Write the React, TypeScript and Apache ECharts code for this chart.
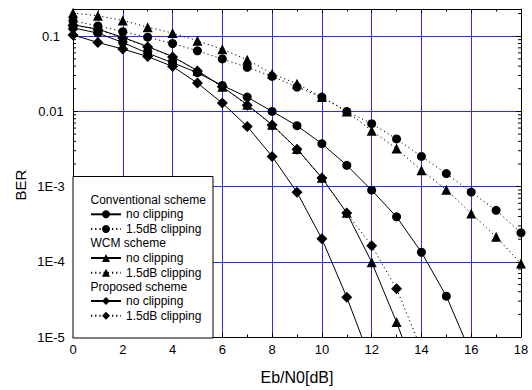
import React, { useEffect, useRef } from "react";
import * as echarts from "echarts";

// Eb/N0 [dB] sample points
const ebn0 = [0, 1, 2, 3, 4, 5, 6, 7, 8, 9, 10, 11, 12, 13, 14, 15, 16, 17, 18];

// BER values (one per Eb/N0 point, starting at 0 dB)
const convNoClip = [0.129, 0.11, 0.0825, 0.0593, 0.0444, 0.0327, 0.0221, 0.0155, 0.01, 0.00646, 0.00372, 0.00192, 8.97e-4, 3.96e-4, 1.34e-4, 3.49e-5, 5.9e-6];
const convClip = [0.16, 0.137, 0.115, 0.097, 0.08, 0.064, 0.0498, 0.0386, 0.0292, 0.0211, 0.0155, 0.01, 0.00687, 0.0043, 0.00252, 0.00149, 8.45e-4, 4.84e-4, 2.43e-4];
const wcmNoClip = [0.142, 0.124, 0.0967, 0.0729, 0.0537, 0.0348, 0.0213, 0.0123, 0.00665, 0.00317, 0.00131, 4.48e-4, 9.9e-5, 1.58e-5, 2.0e-6];
const wcmClip = [0.203, 0.187, 0.162, 0.132, 0.11, 0.087, 0.067, 0.0487, 0.0317, 0.0233, 0.0155, 0.01, 0.00554, 0.0032, 0.00165, 9.1e-4, 4.4e-4, 2.15e-4, 9.5e-5];
const propNoClip = [0.104, 0.0825, 0.0675, 0.0537, 0.0396, 0.0238, 0.0129, 0.00632, 0.00252, 8.39e-4, 2.02e-4, 3.39e-5, 4.5e-6];
const propClip = [0.14, 0.122, 0.095, 0.072, 0.053, 0.0345, 0.0212, 0.0121, 0.0066, 0.00315, 0.0013, 4.45e-4, 1.64e-4, 4.37e-5, 6.9e-6];

// Axis ranges and tick labels
const xMin = 0;
const xMax = 18;
const xInterval = 2;
const yMin = 1e-5;
const yMax = 0.23;
const yTickLabels: Record<string, string> = { "-1": "0.1", "-2": "0.01", "-3": "1E-3", "-4": "1E-4", "-5": "1E-5" };
const yMinorTicks = [
  2e-5, 3e-5, 4e-5, 5e-5, 6e-5, 7e-5, 8e-5, 9e-5,
  2e-4, 3e-4, 4e-4, 5e-4, 6e-4, 7e-4, 8e-4, 9e-4,
  2e-3, 3e-3, 4e-3, 5e-3, 6e-3, 7e-3, 8e-3, 9e-3,
  2e-2, 3e-2, 4e-2, 5e-2, 6e-2, 7e-2, 8e-2, 9e-2,
  2e-1,
];

// Legend groups
const groupHeaders = ["Conventional scheme", "WCM scheme", "Proposed scheme"];
const itemLabels = ["no clipping", "1.5dB clipping"];

const FONT = "'Liberation Sans', Arial, Helvetica, sans-serif";

function pairs(vals: number[]) {
  return vals.map((v, i) => [ebn0[i], v]);
}

export default function App() {
  const ref = useRef<HTMLDivElement>(null);
  useEffect(() => {
    document.body.style.margin = "0";
    const chart = echarts.init(ref.current!, undefined, { renderer: "svg" });

    const gridL = 73, gridT = 9, gridR = 11, gridB = 52;

    const seriesDefs = [
      { name: "Conventional scheme: no clipping", data: convNoClip, symbol: "circle", size: 9, dotted: false },
      { name: "Conventional scheme: 1.5dB clipping", data: convClip, symbol: "circle", size: 9, dotted: true },
      { name: "WCM scheme: no clipping", data: wcmNoClip, symbol: "triangle", size: 10, dotted: false },
      { name: "WCM scheme: 1.5dB clipping", data: wcmClip, symbol: "triangle", size: 10, dotted: true },
      { name: "Proposed scheme: no clipping", data: propNoClip, symbol: "diamond", size: 11, dotted: false },
      { name: "Proposed scheme: 1.5dB clipping", data: propClip, symbol: "diamond", size: 11, dotted: true },
    ];

    const lineSeries = seriesDefs.map((s) => ({
      type: "line",
      name: s.name,
      data: pairs(s.data),
      symbol: s.symbol,
      symbolSize: s.size,
      clip: true,
      itemStyle: { color: "#000" },
      lineStyle: { color: "#000", width: 1, type: s.dotted ? [1.2, 3] : "solid" },
      z: 5,
    }));

    const minorTickSeries = {
      type: "custom",
      name: "minorTicks",
      xAxisIndex: 0,
      yAxisIndex: 0,
      silent: true,
      z: 3,
      data: yMinorTicks.map((v) => [xMin, v]),
      renderItem: (params: any, api: any) => {
        const p = api.coord([xMin, api.value(1)]);
        const cs = params.coordSys;
        const st = { stroke: "#000", lineWidth: 1 };
        return {
          type: "group",
          children: [
            { type: "line", shape: { x1: cs.x, y1: p[1], x2: cs.x + 3, y2: p[1] }, style: st },
            { type: "line", shape: { x1: cs.x + cs.width - 3, y1: p[1], x2: cs.x + cs.width, y2: p[1] }, style: st },
          ],
        };
      },
    };

    const legendRows = [207.3, 251, 294];
    const headerRows = [200, 243.3, 287.3];
    const legends = groupHeaders.map((g, gi) => ({
      show: true,
      orient: "vertical",
      left: 90,
      top: legendRows[gi],
      padding: 0,
      itemWidth: 30,
      itemHeight: 10,
      itemGap: 0.7,
      selectedMode: false,
      z: 20,
      data: itemLabels.map((l) => `${g}: ${l}`),
      formatter: (name: string) => name.split(": ")[1],
      textStyle: { fontFamily: FONT, fontSize: 12, color: "#000", lineHeight: 14 },
    }));

    const option: any = {
      animation: false,
      backgroundColor: "#fff",
      textStyle: { fontFamily: FONT },
      grid: { left: gridL, top: gridT, right: gridR, bottom: gridB, containLabel: false },
      xAxis: [
        {
          type: "value",
          position: "bottom",
          min: xMin,
          max: xMax,
          interval: xInterval,
          name: "Eb/N0[dB]",
          nameLocation: "middle",
          nameGap: 32,
          nameTextStyle: { fontFamily: FONT, fontSize: 16, color: "#000" },
          axisLine: { show: true, onZero: false, lineStyle: { color: "#000", width: 1 } },
          axisTick: { show: true, inside: true, length: 4, lineStyle: { color: "#000" } },
          minorTick: { show: true, splitNumber: 2, length: 2.5, lineStyle: { color: "#000" } },
          axisLabel: { fontFamily: FONT, fontSize: 13, color: "#000", margin: 6 },
          splitLine: { show: true, lineStyle: { color: "#2a2aff", width: 1 } },
        },
        {
          type: "value",
          position: "top",
          min: xMin,
          max: xMax,
          interval: xInterval,
          axisLine: { show: true, onZero: false, lineStyle: { color: "#000", width: 1 } },
          axisTick: { show: true, inside: true, length: 4, lineStyle: { color: "#000" } },
          minorTick: { show: true, splitNumber: 2, length: 2.5, lineStyle: { color: "#000" } },
          axisLabel: { show: false },
          splitLine: { show: false },
        },
      ],
      yAxis: [
        {
          type: "log",
          logBase: 10,
          position: "left",
          min: yMin,
          max: yMax,
          axisLine: { show: true, onZero: false, lineStyle: { color: "#000", width: 1 } },
          axisTick: { show: true, inside: true, length: 5, lineStyle: { color: "#000" } },
          axisLabel: {
            fontFamily: FONT,
            fontSize: 13,
            color: "#000",
            align: "center",
            margin: 22,
            showMaxLabel: false,
            formatter: (v: number) => {
              const e = Math.log10(v);
              const r = Math.round(e);
              if (Math.abs(e - r) > 0.01) return "";
              return yTickLabels[String(r)] ?? "";
            },
          },
          splitLine: { show: true, lineStyle: { color: "#2a2aff", width: 1 } },
        },
        {
          type: "log",
          logBase: 10,
          position: "right",
          min: yMin,
          max: yMax,
          axisLine: { show: true, onZero: false, lineStyle: { color: "#000", width: 1 } },
          axisTick: { show: true, inside: true, length: 5, lineStyle: { color: "#000" } },
          axisLabel: { show: false },
          splitLine: { show: false },
        },
      ],
      legend: legends,
      graphic: [
        {
          type: "rect",
          z: 10,
          shape: { x: 73, y: 176.5, width: 140, height: 161.5 },
          style: { fill: "#fff", stroke: "#000", lineWidth: 1 },
        },
        ...groupHeaders.map((g, gi) => ({
          type: "text",
          z: 20,
          x: 90.5,
          y: headerRows[gi],
          style: { text: g, font: `12px ${FONT}`, fill: "#000", align: "left", verticalAlign: "middle" },
        })),
        {
          type: "text",
          z: 20,
          x: 20,
          y: 185,
          rotation: Math.PI / 2,
          style: { text: "BER", font: `15px ${FONT}`, fill: "#000", align: "center", verticalAlign: "middle" },
        },
      ],
      series: [...lineSeries, minorTickSeries],
    };

    chart.setOption(option);
    return () => chart.dispose();
  }, []);

  return <div ref={ref} style={{ position: "fixed", left: 0, top: 0, width: 532, height: 390 }} />;
}
